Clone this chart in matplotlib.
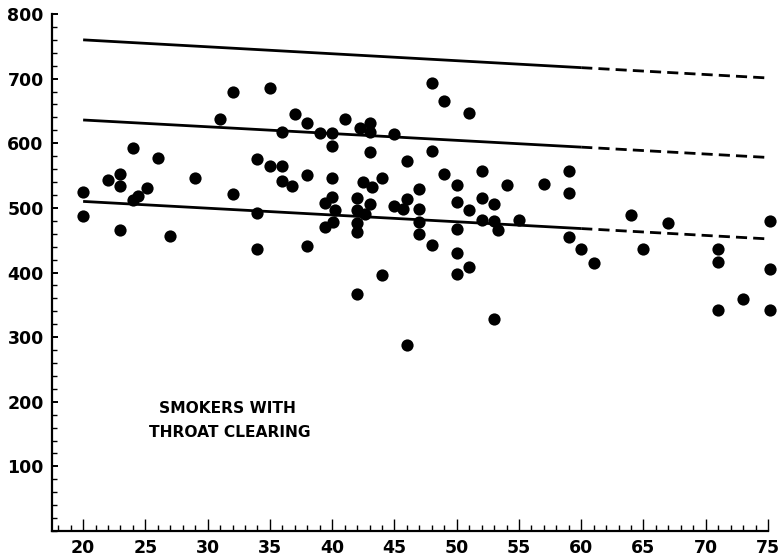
import matplotlib
matplotlib.use("Agg")
import matplotlib.pyplot as plt
from matplotlib.ticker import MultipleLocator, FixedLocator

# Age (years) and measured value for each subject
ages = [
    20, 20, 22, 23, 23, 23, 24, 24.4, 24, 25.1, 26, 27, 29, 31, 32, 32,
    34, 34, 34, 35, 35, 36, 36, 36, 37, 36.8, 38, 38, 38, 39, 39.4, 39.4,
    40, 40, 40, 40, 40.2, 40.1, 41, 42.2, 42, 42, 42, 42, 42, 42.5, 42.6,
    43, 43, 43, 43, 43.2, 44, 44, 45, 45, 45.7, 46, 46, 46,
    47, 47, 47, 47, 48, 48, 48, 49, 49, 50, 50, 50, 50, 50,
    51, 51, 51, 52, 52, 52, 53, 53, 53.3, 53, 54, 55, 57,
    59, 59, 59, 60, 61, 64, 65, 67, 71, 71, 71, 73, 75.2, 75.2, 75.2,
]
values = [
    525, 487, 543, 552, 534, 466, 592, 519, 512, 531, 577, 456, 547, 638, 680, 522,
    576, 492, 437, 686, 565, 618, 565, 541, 646, 534, 632, 551, 441, 616, 507, 470,
    616, 596, 546, 517, 497, 478, 637, 623, 516, 496, 476, 462, 367, 540, 490,
    632, 618, 586, 506, 532, 547, 396, 615, 503, 498, 573, 514, 288,
    529, 498, 478, 460, 693, 588, 442, 666, 552, 535, 509, 467, 430, 397,
    647, 497, 408, 557, 516, 482, 506, 479, 466, 328, 536, 482, 537,
    557, 523, 455, 437, 415, 489, 436, 476, 437, 417, 342, 359, 480, 406, 342,
]

# Regression line with upper and lower limits: fitted range and extrapolation
fit_ages = [20, 60]
ext_ages = [60, 75]
upper_fit = [760, 717]
upper_ext = [717, 701]
mean_fit = [636, 594]
mean_ext = [594, 578]
lower_fit = [510, 468]
lower_ext = [468, 452]

x_ticks = [20, 25, 30, 35, 40, 45, 50, 55, 60, 65, 70, 75]
y_ticks = [100, 200, 300, 400, 500, 600, 700, 800]

label_font = dict(family="DejaVu Sans", weight="bold")

fig = plt.figure(figsize=(7.8, 5.58), dpi=100)
ax = fig.add_axes([52 / 780, 1 - 531 / 558, (768 - 52) / 780, (531 - 14) / 558])
ax.set_xlim(17.5, 75)
ax.set_ylim(0, 800)

for xs, ys in [(fit_ages, upper_fit), (fit_ages, mean_fit), (fit_ages, lower_fit)]:
    ax.plot(xs, ys, color="black", lw=2.0, solid_capstyle="butt", zorder=2)
for xs, ys in [(ext_ages, upper_ext), (ext_ages, mean_ext), (ext_ages, lower_ext)]:
    ax.plot(xs, ys, color="black", lw=2.0, dashes=(4, 2.2), zorder=2)

ax.plot(ages, values, "o", color="black", markersize=8.8, markeredgewidth=0,
        clip_on=False, zorder=3)

ax.text(31.6, 189, "SMOKERS WITH", ha="center", va="center", fontsize=11.2,
        **label_font)
ax.text(31.8, 153, "THROAT CLEARING", ha="center", va="center", fontsize=11.2,
        **label_font)

for side in ("top", "right"):
    ax.spines[side].set_visible(False)
for side in ("left", "bottom"):
    ax.spines[side].set_linewidth(1.6)
ax.spines["bottom"].set_bounds(17.5, 75)

ax.xaxis.set_major_locator(FixedLocator(x_ticks))
ax.xaxis.set_minor_locator(MultipleLocator(1))
ax.yaxis.set_major_locator(FixedLocator(y_ticks))
ax.yaxis.set_minor_locator(MultipleLocator(20))

ax.tick_params(axis="x", which="major", direction="in", length=9, width=1.0,
               pad=6, labelsize=12.5)
ax.tick_params(axis="x", which="minor", direction="in", length=4.5, width=1.0)
ax.tick_params(axis="y", which="major", direction="in", length=4.5, width=1.4,
               pad=6, labelsize=12.5)
ax.tick_params(axis="y", which="minor", direction="in", length=3.5, width=1.0)
for lab in ax.get_xticklabels() + ax.get_yticklabels():
    lab.set_fontweight("bold")

fig.savefig("out.png", dpi=100)
